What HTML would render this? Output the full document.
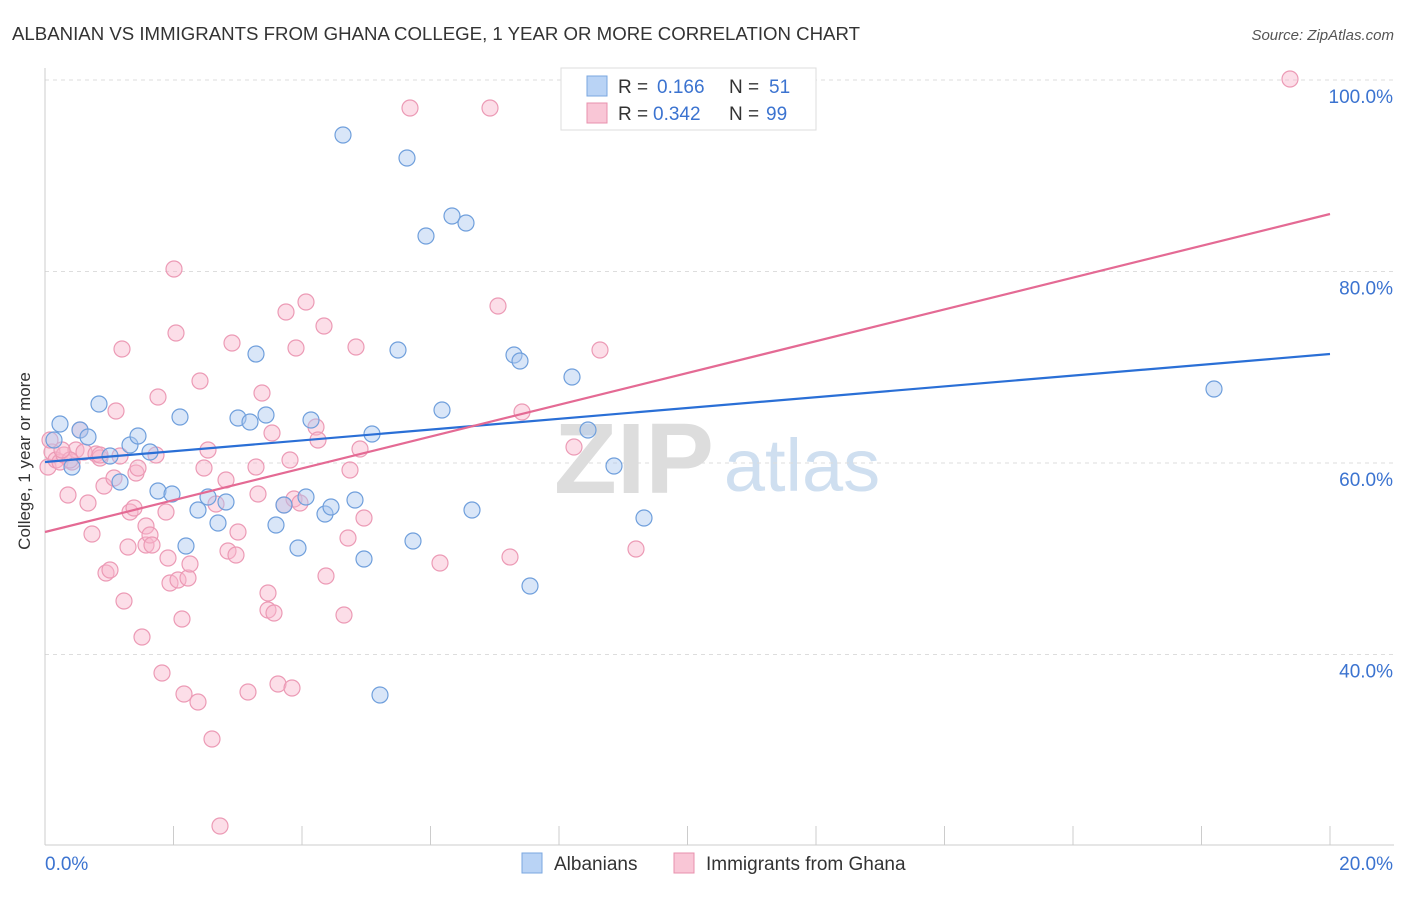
<!DOCTYPE html>
<html><head><meta charset="utf-8">
<style>
body{margin:0;background:#fff;font-family:"Liberation Sans",sans-serif;}
svg text{font-family:"Liberation Sans",sans-serif;}
</style></head>
<body>
<svg id="c" width="1406" height="892" xmlns="http://www.w3.org/2000/svg">
<text x="12" y="40" font-size="18" fill="#333" textLength="848" lengthAdjust="spacingAndGlyphs">ALBANIAN VS IMMIGRANTS FROM GHANA COLLEGE, 1 YEAR OR MORE CORRELATION CHART</text>
<text x="1394" y="40" font-size="15" fill="#555" text-anchor="end" font-style="italic">Source: ZipAtlas.com</text>
<g>
<text x="634" y="493" font-size="100" fill="#ddd" text-anchor="middle" font-family="Liberation Serif" font-weight="bold" textLength="160" lengthAdjust="spacingAndGlyphs">ZIP</text>
<text x="802" y="491" font-size="74" fill="#cfdff0" text-anchor="middle">atlas</text>
</g>
<g id="grid"></g>
<g id="axes"></g>
<g id="pts"></g>
<g id="lines"></g>
<text x="25" y="456" font-size="17" fill="#333" text-anchor="middle" transform="rotate(-90 30 456)">College, 1 year or more</text>
<g>
<rect x="561" y="68" width="255" height="62" fill="#fff" stroke="#ddd"/>
<rect x="587" y="76" width="20" height="20" fill="#b9d3f5" stroke="#7aa7e0"/>
<rect x="587" y="103" width="20" height="20" fill="#f9c6d6" stroke="#e890ad"/>
<text x="618" y="93" font-size="19" fill="#333">R =</text>
<text x="657" y="93" font-size="19" fill="#3b73d0">0.166</text>
<text x="729" y="93" font-size="19" fill="#333">N =</text>
<text x="769" y="93" font-size="19" fill="#3b73d0">51</text>
<text x="618" y="120" font-size="19" fill="#333">R =</text>
<text x="653" y="120" font-size="19" fill="#3b73d0">0.342</text>
<text x="729" y="120" font-size="19" fill="#333">N =</text>
<text x="766" y="120" font-size="19" fill="#3b73d0">99</text>
</g>
<g>
<rect x="522" y="853" width="20" height="20" fill="#b9d3f5" stroke="#7aa7e0"/>
<text x="554" y="870" font-size="19" fill="#333">Albanians</text>
<rect x="674" y="853" width="20" height="20" fill="#f9c6d6" stroke="#e890ad"/>
<text x="706" y="870" font-size="19" fill="#333">Immigrants from Ghana</text>
</g>
</svg>
<script>
const blueX=[60,72,80,88,99,110,120,130,138,150,158,172,180,186,198,208,218,226,238,250,256,266,276,284,298,306,311,325,331,343,355,364,372,380,398,407,413,426,442,452,466,472,514,520,530,572,588,614,644,1214,54];
const blueY=[424,467,430,437,404,456,482,445,436,452,491,494,417,546,510,497,523,502,418,422,354,415,525,505,548,497,420,514,507,135,500,559,434,695,350,158,541,236,410,216,223,510,355,361,586,377,430,466,518,389,440];
const pinkX=[48,52,56,60,64,68,72,76,80,84,88,92,96,100,104,106,110,114,116,120,122,124,128,130,134,136,138,142,146,146,150,152,156,158,162,166,168,170,174,176,178,182,184,188,190,198,200,204,208,212,216,220,226,228,232,236,238,248,256,258,262,268,268,272,274,278,284,286,290,292,294,296,300,306,316,318,324,326,344,348,350,356,360,364,410,440,490,498,510,522,574,600,636,1290,70,100,62,50];
const pinkY=[467,452,460,462,455,495,462,450,430,452,503,534,454,458,486,573,570,478,411,456,349,601,547,512,508,473,468,637,526,545,535,545,455,397,673,512,558,583,269,333,580,619,694,578,564,702,381,468,450,739,504,826,480,551,343,555,532,692,467,494,393,593,610,433,613,684,505,312,460,688,499,348,503,302,427,440,326,576,615,538,470,347,449,518,108,563,108,306,557,412,447,350,549,79,460,455,450,440];
const toX=p=>(p-45)/1285*20, toY=p=>100-(p-80)/9.575;
const albX=blueX.map(toX), albY=blueY.map(toY);
const ghX=pinkX.map(toX), ghY=pinkY.map(toY);
const yTicks=[40,60,80,100];
const xTicks=[0,2,4,6,8,10,12,14,16,18,20];
const sx=v=>45+v/20*1285, sy=v=>80+(100-v)*9.575;
const NS="http://www.w3.org/2000/svg";
function mk(t,a,p){const e=document.createElementNS(NS,t);for(const k in a)e.setAttribute(k,a[k]);p.appendChild(e);return e;}
const grid=document.getElementById('grid'),axes=document.getElementById('axes'),pts=document.getElementById('pts'),lines=document.getElementById('lines');
yTicks.forEach(v=>{
 const l=mk('line',{x1:45,x2:1394,y1:sy(v),y2:sy(v),stroke:'#ddd','stroke-dasharray':'4,4'},grid);
 
 
 const t=mk('text',{x:1393,y:sy(v)+23,'font-size':19,fill:'#3b73d0','text-anchor':'end'},axes);t.textContent=v.toFixed(1)+'%';
 
 
});
mk('line',{x1:45,x2:45,y1:68,y2:845,stroke:'#ccc'},axes);
mk('line',{x1:45,x2:1394,y1:845,y2:845,stroke:'#ccc'},axes);
xTicks.forEach(v=>{const l=mk('line',{x1:sx(v),x2:sx(v),y1:826,y2:845,stroke:'#ccc'},axes);
 
 });
[[0,'0.0%',45,'start'],[20,'20.0%',1393,'end']].forEach(a=>{const t=mk('text',{x:a[2],y:870,'font-size':19,fill:'#3b73d0','text-anchor':a[3]},axes);t.textContent=a[1];
 
 });
ghX.forEach((x,i)=>{const c=mk('circle',{cx:sx(x),cy:sy(ghY[i]),r:8,fill:'rgba(249,182,204,0.45)',stroke:'#ec9ab5','stroke-width':1.2},pts);
 
 });
albX.forEach((x,i)=>{const c=mk('circle',{cx:sx(x),cy:sy(albY[i]),r:8,fill:'rgba(170,200,240,0.45)',stroke:'#6f9fdc','stroke-width':1.2},pts);
 
 });
const blueTrend=[toY(462),toY(354)], pinkTrend=[toY(532),toY(214)];
const bl=mk('line',{x1:sx(0),y1:sy(blueTrend[0]),x2:sx(20),y2:sy(blueTrend[1]),stroke:'#2a6fd6','stroke-width':2.2},lines);


const pl=mk('line',{x1:sx(0),y1:sy(pinkTrend[0]),x2:sx(20),y2:sy(pinkTrend[1]),stroke:'#e46a94','stroke-width':2.2},lines);


</script>
</body></html>
